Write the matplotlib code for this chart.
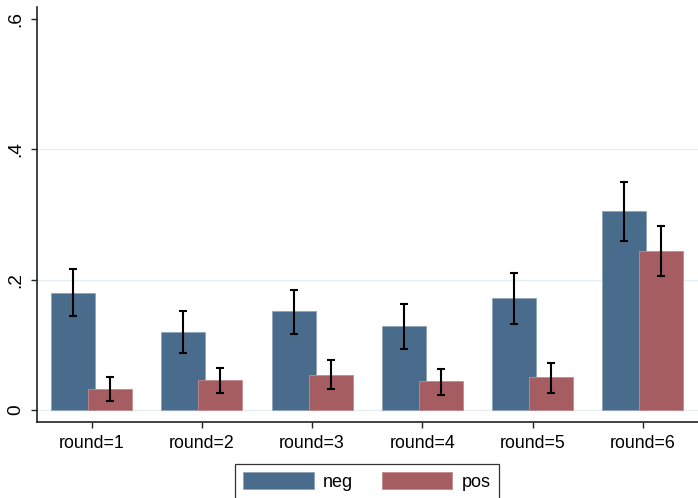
import numpy as np
import matplotlib.pyplot as plt

plt.rcParams['font.family'] = ['Liberation Sans', 'DejaVu Sans']

rounds = ['round=1', 'round=2', 'round=3', 'round=4', 'round=5', 'round=6']
neg_mean = [0.180, 0.119, 0.151, 0.129, 0.171, 0.305]
neg_lo = [0.144, 0.087, 0.117, 0.094, 0.131, 0.260]
neg_hi = [0.217, 0.151, 0.184, 0.163, 0.210, 0.350]
pos_mean = [0.032, 0.045, 0.054, 0.044, 0.050, 0.244]
pos_lo = [0.014, 0.025, 0.032, 0.023, 0.026, 0.205]
pos_hi = [0.050, 0.064, 0.076, 0.063, 0.071, 0.283]
yticks = [0, 0.2, 0.4, 0.6]
ytick_labels = ['0', '.2', '.4', '.6']

neg_color = '#4a6c8c'
pos_color = '#a65d61'

fig = plt.figure(figsize=(6.98, 4.98), dpi=100)
ax = fig.add_axes([36.5 / 698, 1 - 421.7 / 498, 1 - 36.5 / 698, (421.7 - 7) / 498])

x = np.arange(1, len(rounds) + 1)
width = 0.40
offset = 0.168

def draw_series(xs, mean, lo, hi, color, edge, label):
    mean = np.array(mean)
    err = np.vstack([mean - np.array(lo), np.array(hi) - mean])
    ax.bar(xs, mean, width, color=color, edgecolor=edge, linewidth=0.6, label=label, zorder=2)
    ax.errorbar(xs, mean, yerr=err, fmt='none', ecolor='black', elinewidth=1.5,
                capsize=3, capthick=1.5, zorder=3)

draw_series(x - offset, neg_mean, neg_lo, neg_hi, neg_color, '#8fa4b8', 'neg')
draw_series(x + offset, pos_mean, pos_lo, pos_hi, pos_color, '#c08a8d', 'pos')

ax.set_xlim(0.5, 6.5)
ax.set_ylim(-0.0185, 0.619)
ax.set_xticks(x)
ax.set_xticklabels(rounds, fontsize=12.8)
ax.set_yticks(yticks)
ax.set_yticklabels(ytick_labels, fontsize=13.8, rotation=90, ha='right', va='center')

# light horizontal grid
for y in yticks[:-1]:
    ax.axhline(y, color='#e6eef1', linewidth=1.0, zorder=1)

for side in ['top', 'right']:
    ax.spines[side].set_visible(False)
for side in ['left', 'bottom']:
    ax.spines[side].set_color('#222222')
    ax.spines[side].set_linewidth(1.2)
ax.tick_params(axis='both', length=4.5, width=1.0, color='#222222')
ax.tick_params(axis='x', pad=5)
ax.tick_params(axis='y', pad=4.5)

leg = fig.legend(loc='lower center', bbox_to_anchor=(367.3 / 698, -0.002), bbox_transform=fig.transFigure,
                 ncol=2, fontsize=13, frameon=True, fancybox=False, edgecolor='black',
                 handlelength=3.88, handleheight=1.0, handletextpad=0.54, columnspacing=1.6,
                 borderpad=0.46, borderaxespad=0)
leg.get_frame().set_linewidth(0.9)

fig.savefig('out.png', dpi=100)
